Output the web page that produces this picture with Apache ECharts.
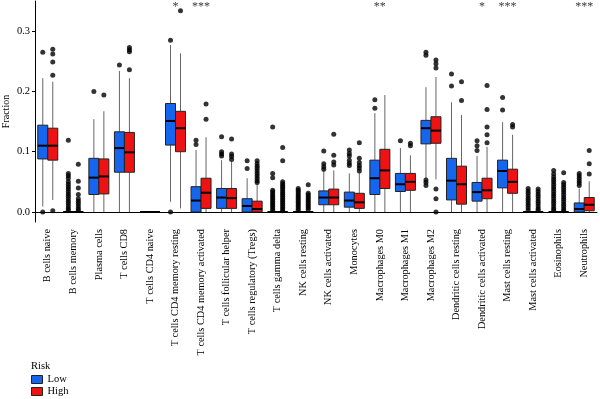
<!DOCTYPE html>
<html>
<head>
<meta charset="utf-8">
<script src="https://cdn.jsdelivr.net/npm/echarts@6/dist/echarts.min.js"></script>
<style>
  html, body { margin: 0; padding: 0; background: #fff; }
  #chart { width: 600px; height: 399px; }
</style>
</head>
<body>
<div id="chart"></div>
<script>
var categories = [
  'B cells naive', 'B cells memory', 'Plasma cells', 'T cells CD8', 'T cells CD4 naive',
  'T cells CD4 memory resting', 'T cells CD4 memory activated', 'T cells follicular helper',
  'T cells regulatory (Tregs)', 'T cells gamma delta', 'NK cells resting', 'NK cells activated',
  'Monocytes', 'Macrophages M0', 'Macrophages M1', 'Macrophages M2', 'Dendritic cells resting',
  'Dendritic cells activated', 'Mast cells resting', 'Mast cells activated', 'Eosinophils', 'Neutrophils'
];

// [whisker low, Q1, median, Q3, whisker high]
var lowStats = [
  [0.009, 0.088, 0.110, 0.144, 0.222],
  [0, 0, 0, 0, 0],
  [0, 0.029, 0.057, 0.089, 0.154],
  [0, 0.066, 0.106, 0.133, 0.234],
  [0, 0, 0, 0, 0],
  [0.017, 0.111, 0.151, 0.180, 0.277],
  [0, 0, 0.019, 0.042, 0.103],
  [0, 0.006, 0.024, 0.039, 0.086],
  [0, 0, 0.010, 0.022, 0.056],
  [0, 0, 0, 0, 0],
  [0, 0, 0, 0, 0],
  [0, 0.012, 0.024, 0.035, 0.069],
  [0, 0.008, 0.019, 0.033, 0.064],
  [0, 0.029, 0.056, 0.086, 0.164],
  [0, 0.034, 0.046, 0.064, 0.106],
  [0.056, 0.113, 0.139, 0.152, 0.207],
  [0, 0.020, 0.052, 0.089, 0.182],
  [0, 0.018, 0.033, 0.049, 0.093],
  [0, 0.040, 0.068, 0.086, 0.149],
  [0, 0, 0, 0, 0],
  [0, 0, 0, 0, 0],
  [0, 0, 0.005, 0.015, 0.039]
];

var highStats = [
  [0.020, 0.086, 0.110, 0.139, 0.216],
  [0, 0, 0, 0, 0],
  [0, 0.030, 0.059, 0.088, 0.167],
  [0, 0.066, 0.099, 0.132, 0.222],
  [0, 0, 0, 0, 0],
  [0.006, 0.100, 0.139, 0.167, 0.263],
  [0, 0.006, 0.032, 0.056, 0.124],
  [0, 0.006, 0.023, 0.039, 0.083],
  [0, 0, 0.005, 0.018, 0.047],
  [0, 0, 0, 0, 0],
  [0, 0, 0, 0, 0],
  [0, 0.012, 0.024, 0.038, 0.069],
  [0, 0.006, 0.016, 0.031, 0.065],
  [0, 0.039, 0.069, 0.104, 0.194],
  [0, 0.036, 0.050, 0.064, 0.094],
  [0.054, 0.114, 0.135, 0.158, 0.224],
  [0, 0.013, 0.046, 0.076, 0.161],
  [0, 0.022, 0.036, 0.056, 0.108],
  [0, 0.031, 0.050, 0.071, 0.128],
  [0, 0, 0, 0, 0],
  [0, 0, 0, 0, 0],
  [0, 0.002, 0.012, 0.024, 0.051]
];

var lowOutliers = [
  [0.265, 0.0],
  [0.119, 0.064, 0.060, 0.056, 0.050, 0.046, 0.042, 0.038, 0.034, 0.030, 0.026, 0.022, 0.018, 0.014, 0.010, 0.006, 0.003],
  [0.200],
  [0.244],
  [],
  [0.285, 0.0],
  [0.119, 0.112],
  [0.125, 0.100, 0.096, 0.093],
  [0.085, 0.072],
  [0.141, 0.064, 0.057, 0.036, 0.033, 0.030, 0.027, 0.024, 0.021, 0.018, 0.015, 0.012, 0.009, 0.006, 0.003],
  [0.039, 0.036, 0.033, 0.030, 0.027, 0.024, 0.021, 0.018, 0.015, 0.012, 0.009, 0.006, 0.003],
  [0.101, 0.080, 0.075, 0.071],
  [0.103, 0.097, 0.093, 0.086, 0.081, 0.077],
  [0.186, 0.172],
  [0.118],
  [0.265, 0.260, 0.053, 0.049, 0.044],
  [0.229, 0.209],
  [0.118, 0.110, 0.102],
  [0.190, 0.169],
  [0.039, 0.035, 0.031, 0.027, 0.023, 0.019, 0.015, 0.011, 0.007, 0.003],
  [0.069, 0.063, 0.058, 0.054, 0.050, 0.046, 0.042, 0.038, 0.034, 0.030, 0.026, 0.022, 0.018, 0.014, 0.010, 0.006, 0.003],
  [0.064, 0.060, 0.056, 0.052, 0.048, 0.044]
];

var highOutliers = [
  [0.270, 0.262, 0.249, 0.227, 0.002],
  [0.079, 0.051, 0.040, 0.029, 0.022, 0.018, 0.014, 0.010, 0.006, 0.003],
  [0.194],
  [0.273, 0.269, 0.266, 0.236],
  [],
  [0.334],
  [0.179, 0.154],
  [0.121, 0.096, 0.092, 0.087],
  [0.085, 0.080, 0.076, 0.072, 0.068, 0.064, 0.060, 0.056, 0.052, 0.049],
  [0.107, 0.085, 0.050, 0.047, 0.044, 0.041, 0.038, 0.035, 0.032, 0.029, 0.026, 0.023, 0.020, 0.017, 0.014, 0.011, 0.008, 0.005, 0.002],
  [0.045, 0.031, 0.028, 0.025, 0.022, 0.019, 0.016, 0.013, 0.010, 0.007, 0.004],
  [0.129, 0.094, 0.083, 0.078],
  [0.115, 0.089, 0.082, 0.077, 0.073, 0.068],
  [],
  [0.114, 0.110],
  [0.252, 0.246, 0.239, 0.038, 0.022, 0.0],
  [0.216, 0.185],
  [0.210, 0.170, 0.141, 0.128, 0.115],
  [0.145, 0.141],
  [0.038, 0.034, 0.030, 0.026, 0.022, 0.018, 0.014, 0.010, 0.006, 0.003],
  [0.065, 0.049, 0.045, 0.041, 0.037, 0.033, 0.029, 0.025, 0.021, 0.017, 0.013, 0.009, 0.005, 0.002],
  [0.102, 0.080, 0.063]
];

var signif = ['', '', '', '', '', '*', '***', '', '', '', '', '', '', '**', '', '', '', '*', '***', '', '', '***'];

var yTicks = [0, 0.1, 0.2, 0.3];

var BLUE = '#1565EE';
var RED = '#EE1212';
var FONT = 'Liberation Serif';

var myChart = echarts.init(document.getElementById('chart'));

function boxData(stats) {
  return stats.map(function (s, i) { return [i].concat(s); });
}

function outlierData(list) {
  var out = [];
  list.forEach(function (vals, i) {
    vals.forEach(function (v) { out.push([i, v]); });
  });
  return out;
}

// draws one box (whiskers, box, median) shifted left/right of the category centre
function makeBox(side, color) {
  return function (params, api) {
    var idx = api.value(0);
    var x = api.coord([idx, 0])[0] + side * 5;
    var w = 10;
    var yMin = api.coord([idx, api.value(1)])[1];
    var yQ1 = api.coord([idx, api.value(2)])[1];
    var yMed = api.coord([idx, api.value(3)])[1];
    var yQ3 = api.coord([idx, api.value(4)])[1];
    var yMax = api.coord([idx, api.value(5)])[1];
    return {
      type: 'group',
      children: [
        { type: 'line', shape: { x1: x, y1: yMin, x2: x, y2: yQ1 }, style: { stroke: '#666', lineWidth: 1 } },
        { type: 'line', shape: { x1: x, y1: yQ3, x2: x, y2: yMax }, style: { stroke: '#666', lineWidth: 1 } },
        { type: 'rect', shape: { x: x - w / 2, y: yQ3, width: w, height: yQ1 - yQ3 }, style: { fill: color, stroke: '#222', lineWidth: 1 } },
        { type: 'line', shape: { x1: x - w / 2, y1: yMed, x2: x + w / 2, y2: yMed }, style: { stroke: '#000', lineWidth: 2 } }
      ]
    };
  };
}

var starData = [];
signif.forEach(function (s, i) { if (s) starData.push([i, 0.34, s]); });

var option = {
  animation: false,
  backgroundColor: '#fff',
  textStyle: { fontFamily: FONT },
  title: {
    text: 'Risk',
    left: 31,
    top: 361,
    padding: 0,
    textStyle: { fontFamily: FONT, fontSize: 10.5, fontWeight: 'normal', color: '#000' }
  },
  legend: {
    data: ['Low', 'High'],
    orient: 'vertical',
    left: 31,
    top: 374,
    padding: 0,
    itemWidth: 11,
    itemHeight: 8,
    itemGap: 1,
    icon: 'rect',
    itemStyle: { borderColor: '#222', borderWidth: 1 },
    textStyle: { fontFamily: FONT, fontSize: 10.5, color: '#000' }
  },
  grid: { left: 35, right: 3, top: 1, bottom: 177, outerBoundsMode: 'none', containLabel: false },
  xAxis: {
    type: 'category',
    data: categories,
    axisLine: { lineStyle: { color: '#000', width: 1 } },
    axisTick: { alignWithLabel: true, length: 3, lineStyle: { color: '#000' } },
    axisLabel: { rotate: 90, margin: 7, interval: 0, fontFamily: FONT, fontSize: 10.3, color: '#000' },
    splitLine: { show: false }
  },
  yAxis: {
    type: 'value',
    min: -0.0166,
    max: 0.35,
    name: 'Fraction',
    nameLocation: 'middle',
    nameGap: 24,
    nameMoveOverlap: false,
    nameTextStyle: { fontFamily: FONT, fontSize: 10, color: '#000' },
    axisLine: { show: true, lineStyle: { color: '#000', width: 1 } },
    axisTick: { show: true, length: 3, customValues: yTicks, lineStyle: { color: '#000' } },
    axisLabel: {
      customValues: yTicks,
      margin: 5,
      fontFamily: FONT,
      fontSize: 10.5,
      color: '#000',
      formatter: function (v) { return v.toFixed(1); }
    },
    splitLine: { show: false }
  },
  series: [
    {
      name: 'Low',
      type: 'custom',
      itemStyle: { color: BLUE },
      renderItem: makeBox(-1, BLUE),
      encode: { x: 0, y: [1, 2, 3, 4, 5] },
      data: boxData(lowStats),
      z: 2
    },
    {
      name: 'High',
      type: 'custom',
      itemStyle: { color: RED },
      renderItem: makeBox(1, RED),
      encode: { x: 0, y: [1, 2, 3, 4, 5] },
      data: boxData(highStats),
      z: 2
    },
    {
      name: 'Low outliers',
      type: 'scatter',
      symbolSize: 5,
      symbolOffset: [-5, 0],
      itemStyle: { color: '#000' },
      data: outlierData(lowOutliers),
      z: 3
    },
    {
      name: 'High outliers',
      type: 'scatter',
      symbolSize: 5,
      symbolOffset: [5, 0],
      itemStyle: { color: '#000' },
      data: outlierData(highOutliers),
      z: 3
    },
    {
      name: 'signif',
      type: 'scatter',
      symbolSize: 0,
      data: starData,
      label: {
        show: true,
        position: 'inside',
        fontFamily: FONT,
        fontSize: 12,
        color: '#000',
        formatter: function (p) { return p.value[2]; }
      },
      z: 4
    }
  ]
};

myChart.setOption(option);
</script>
</body>
</html>
